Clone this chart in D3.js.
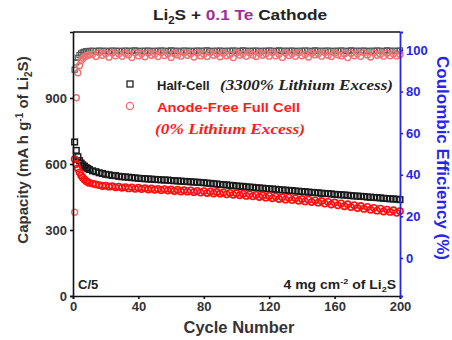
<!DOCTYPE html>
<html>
<head>
<meta charset="utf-8">
<script src="https://cdn.jsdelivr.net/npm/d3@7"></script>
<style>
  body { margin: 0; background: #fff; }
  text { font-family: Arial, "Liberation Sans", sans-serif; font-weight: bold; }
</style>
</head>
<body>
<div id="chart"></div>
<script>
// cycle numbers
const cycles = [1,2,3,4,5,6,7,8,9,10,12,14,16,18,20,22,24,26,28,30,32,34,36,38,40,42,44,46,48,50,
  52,54,56,58,60,62,64,66,68,70,72,74,76,78,80,82,84,86,88,90,92,94,96,98,100,102,104,106,108,110,
  112,114,116,118,120,122,124,126,128,130,132,134,136,138,140,142,144,146,148,150,152,154,156,158,160,
  162,164,166,168,170,172,174,176,178,180,182,184,186,188,190,192,194,196,198,200];

// capacity, mA h g-1
const halfCap = [700,662,633,615,604,596,590,584,579,575,
  569,565,560,557,553,551,548,547,544,542,
  541,540,538,537,535,534,533,532,531,530,
  529,528,527,527,525,524,523,522,521,520,
  519,518,517,516,515,513,512,510,509,507,
  506,505,503,502,500,499,498,496,495,494,
  492,491,490,488,487,486,485,483,482,481,
  480,479,477,476,475,474,472,471,470,469,
  467,466,465,464,462,461,460,459,458,456,
  455,454,453,452,450,449,448,447,446,444,
  443,442,441,440,438];
const freeCap = [622,600,580,562,548,538,530,523,518,514,
  511,507,504,500,502,497,499,494,497,492,
  495,489,494,487,492,486,490,484,489,483,
  487,481,486,479,484,477,483,475,481,474,
  480,472,478,470,477,468,475,466,473,465,
  471,462,469,460,467,458,465,455,462,453,
  460,450,457,447,455,444,452,441,449,438,
  447,436,444,433,441,430,438,427,435,424,
  432,420,428,416,425,412,421,408,417,404,
  413,400,409,396,405,392,401,388,397,384,
  393,382,390,378,386];

// coulombic efficiency, %
const halfCE = [90.5,94.0,96.2,97.5,98.3,98.8,99.1,99.3,99.4,99.5,
  99.6,99.4,99.7,99.5,99.6,99.3,99.7,99.5,99.6,99.4,
  99.7,99.5,99.6,99.8,99.4,99.6,99.5,99.7,99.4,99.6,
  99.5,99.7,99.6,99.4,99.8,99.5,99.6,99.3,99.7,99.5,
  99.6,99.4,99.7,99.5,99.6,99.8,99.4,99.6,99.5,99.7,
  99.4,99.6,99.5,99.7,99.6,99.4,99.8,99.5,99.6,99.5,
  99.7,99.4,99.6,99.5,99.7,99.6,99.4,99.8,99.5,99.6,
  99.5,99.7,99.4,99.6,99.5,99.7,99.6,99.4,99.8,99.5,
  99.6,99.5,99.7,99.4,99.6,99.5,99.7,99.6,99.4,99.8,
  99.5,99.6,99.5,99.7,99.4,99.6,99.5,99.7,99.6,99.4,
  99.8,99.5,99.6,99.5,99.7];
const freeCE = [22,77,89,92.5,94.8,96.0,96.7,97.1,97.4,97.6,
  97.9,96.8,98.6,97.4,98.2,96.5,98.5,97.2,98.1,96.9,
  98.4,97.6,96.3,98.6,97.1,98.2,96.7,98.5,97.4,97.9,
  96.8,98.7,97.3,98.1,96.4,98.3,97.6,97.0,98.6,97.4,
  98.2,96.6,98.5,97.1,97.9,96.8,98.7,97.4,98.1,96.7,
  98.4,97.2,97.8,96.3,98.5,97.4,98.1,97.0,98.6,97.6,
  96.8,98.4,97.4,98.1,97.0,98.7,97.1,97.9,96.4,98.5,
  97.3,98.2,96.9,98.6,97.2,97.8,96.6,98.4,97.6,98.1,
  97.0,98.7,97.4,96.8,98.5,97.7,97.1,98.1,96.3,98.4,
  97.2,98.2,96.9,98.6,97.6,96.6,98.5,97.4,97.9,97.0,
  98.4,97.2,98.1,97.1,97.8];

const xTicks = [0, 40, 80, 120, 160, 200];
const capTicks = [0, 300, 600, 900];
const ceTicks = [0, 20, 40, 60, 80, 100];

const W = 452, H = 340;
const margin = { top: 32, right: 52, bottom: 44, left: 73 };
const innerW = W - margin.left - margin.right;
const innerH = H - margin.top - margin.bottom;
const blue = "#2626e8";
const serif = "'Liberation Serif', 'Times New Roman', serif";

const svg = d3.select("#chart").append("svg")
  .attr("width", W).attr("height", H);
const g = svg.append("g")
  .attr("transform", `translate(${margin.left},${margin.top})`);

const x = d3.scaleLinear().domain([0, 200]).range([0, innerW]);
const yCap = d3.scaleLinear().domain([0, 1200]).range([innerH, 0]);
const yCE = d3.scaleLinear().domain([-18.3, 108.6]).range([innerH, 0]);

const rows = cycles.map((c, i) => ({
  c, hc: halfCap[i], fc: freeCap[i], he: halfCE[i], fe: freeCE[i]
}));

// CE markers
g.append("g").selectAll("rect").data(rows).join("rect")
  .attr("x", d => x(d.c) - 2.6).attr("y", d => yCE(d.he) - 2.6)
  .attr("width", 5.2).attr("height", 5.2)
  .attr("fill", "none").attr("stroke", "#555").attr("stroke-width", 1.1);
g.append("g").selectAll("circle").data(rows).join("circle")
  .attr("cx", d => x(d.c)).attr("cy", d => yCE(d.fe)).attr("r", 3)
  .attr("fill", "none").attr("stroke", "#f07070").attr("stroke-width", 1.4);

// capacity markers
g.append("g").selectAll("rect").data(rows).join("rect")
  .attr("x", d => x(d.c) - 2.8).attr("y", d => yCap(d.hc) - 2.8)
  .attr("width", 5.6).attr("height", 5.6)
  .attr("fill", "none").attr("stroke", "#1a1a1a").attr("stroke-width", 1.5);
g.append("g").selectAll("circle").data(rows).join("circle")
  .attr("cx", d => x(d.c)).attr("cy", d => yCap(d.fc)).attr("r", 3.1)
  .attr("fill", "none").attr("stroke", "#ff1010").attr("stroke-width", 1.6);

// axes
const xAxis = g.append("g").attr("transform", `translate(0,${innerH})`)
  .call(d3.axisBottom(x).tickValues(xTicks).tickSize(3).tickPadding(3));
const yAxisL = g.append("g")
  .call(d3.axisLeft(yCap).tickValues(capTicks).tickSize(3).tickPadding(3));
const yAxisR = g.append("g").attr("transform", `translate(${innerW},0)`)
  .call(d3.axisRight(yCE).tickValues(ceTicks).tickSize(3).tickPadding(3));

[xAxis, yAxisL].forEach(a => {
  a.select(".domain").attr("stroke", "#111").attr("stroke-width", 1.6);
  a.selectAll(".tick line").attr("stroke", "#111").attr("stroke-width", 1.6);
  a.selectAll(".tick text").attr("fill", "#333").style("font-size", "13px");
});
yAxisR.select(".domain").attr("stroke", blue).attr("stroke-width", 1.8);
yAxisR.selectAll(".tick line").attr("stroke", blue).attr("stroke-width", 1.6);
yAxisR.selectAll(".tick text").attr("fill", blue).style("font-size", "13px");

// top border
g.append("line").attr("x1", 0).attr("x2", innerW).attr("y1", 0).attr("y2", 0)
  .attr("stroke", "#111").attr("stroke-width", 1.6);

// title (horizontally stretched like the source image)
const title = svg.append("text").attr("transform", "translate(240,20) scale(1.15,1)")
  .attr("text-anchor", "middle").style("font-size", "15px").attr("fill", "#222");
title.append("tspan").text("Li");
title.append("tspan").attr("dy", 4).style("font-size", "10px").text("2");
title.append("tspan").attr("dy", -4).text("S + ");
title.append("tspan").attr("fill", "#9c2f9c").text("0.1 Te");
title.append("tspan").text(" Cathode");

// axis titles
const yl = svg.append("text")
  .attr("transform", "translate(28,150) rotate(-90)")
  .attr("text-anchor", "middle").style("font-size", "15px").attr("fill", "#333");
yl.append("tspan").text("Capacity (mA h g");
yl.append("tspan").attr("dy", -5).style("font-size", "10px").text("-1");
yl.append("tspan").attr("dy", 5).text(" of Li");
yl.append("tspan").attr("dy", 4).style("font-size", "10px").text("2");
yl.append("tspan").attr("dy", -4).text("S)");

svg.append("text")
  .attr("transform", "translate(437,158) rotate(90)")
  .attr("text-anchor", "middle").style("font-size", "17px").attr("fill", blue)
  .text("Coulombic Efficiency (%)");

svg.append("text").attr("x", 239).attr("y", 333)
  .attr("text-anchor", "middle").style("font-size", "16.5px").attr("fill", "#333")
  .text("Cycle Number");

// legend
const leg = svg.append("g");
leg.append("rect").attr("x", 127).attr("y", 81).attr("width", 6).attr("height", 6)
  .attr("fill", "none").attr("stroke", "#222").attr("stroke-width", 1.3);
leg.append("text").attr("x", 157).attr("y", 90)
  .style("font-size", "13px").attr("fill", "#222").text("Half-Cell");
leg.append("text").attr("x", 220).attr("y", 90)
  .attr("textLength", 173).attr("lengthAdjust", "spacingAndGlyphs")
  .style("font-family", serif).style("font-style", "italic").style("font-size", "15px")
  .attr("fill", "#222").text("(3300% Lithium Excess)");

leg.append("circle").attr("cx", 130).attr("cy", 106).attr("r", 3.6)
  .attr("fill", "none").attr("stroke", "#f06a6a").attr("stroke-width", 1.3);
leg.append("text").attr("x", 157).attr("y", 112)
  .attr("textLength", 143).attr("lengthAdjust", "spacingAndGlyphs")
  .style("font-size", "13px").attr("fill", "#ff1a1a").text("Anode-Free Full Cell");
leg.append("text").attr("x", 155).attr("y", 134)
  .attr("textLength", 150).attr("lengthAdjust", "spacingAndGlyphs")
  .style("font-family", serif).style("font-style", "italic").style("font-size", "15px")
  .attr("fill", "#ff1a1a").text("(0% Lithium Excess)");

// annotations
svg.append("text").attr("x", 78).attr("y", 289)
  .style("font-size", "13px").attr("fill", "#222").text("C/5");
const ann = svg.append("text").attr("transform", "translate(396,289) scale(1.12,1)")
  .attr("text-anchor", "end").style("font-size", "12.5px").attr("fill", "#222");
ann.append("tspan").text("4 mg cm");
ann.append("tspan").attr("dy", -5).style("font-size", "8px").text("-2");
ann.append("tspan").attr("dy", 5).text(" of Li");
ann.append("tspan").attr("dy", 3).style("font-size", "8px").text("2");
ann.append("tspan").attr("dy", -3).text("S");
</script>
</body>
</html>
